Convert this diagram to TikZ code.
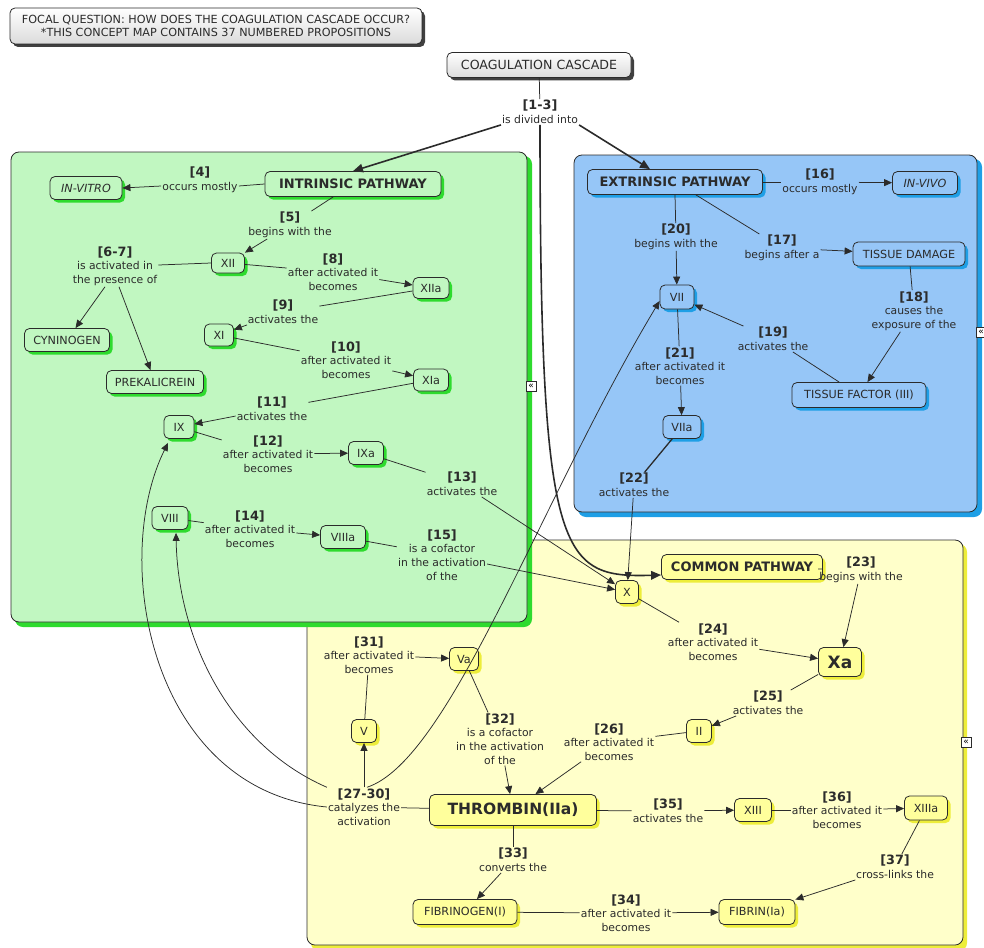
\documentclass[tikz,border=0pt]{standalone}
\usepackage{fontspec}
\setmainfont{DejaVu Sans}
\usetikzlibrary{arrows.meta,shadows}

\definecolor{grpgreen}{HTML}{C1F7C1}
\definecolor{shgreen}{HTML}{2EDB2E}
\definecolor{grpblue}{HTML}{96C6F7}
\definecolor{shblue}{HTML}{1E9FE6}
\definecolor{grpyellow}{HTML}{FFFFCA}
\definecolor{ndyellow}{HTML}{FFFF9C}
\definecolor{shyellow}{HTML}{EDED3A}
\definecolor{ink}{HTML}{2B2B2B}

\newcommand\cfont{\fontsize{11.2}{13}\selectfont}
\newcommand\lfont{\fontsize{10.8}{13.6}\selectfont}
\newcommand\pnum[1]{{\fontsize{12.8}{14}\selectfont\bfseries #1}}

\begin{document}
\begin{tikzpicture}[x=1pt,y=-1pt,
  concept/.style={draw=ink, line width=0.8pt, rounded corners=5pt, text=ink,
    font=\cfont, inner xsep=3pt, inner ysep=2pt, minimum height=23pt},
  gc/.style={concept, fill=grpgreen,
    drop shadow={shadow xshift=3pt, shadow yshift=-3pt, fill=shgreen, opacity=1}},
  bc/.style={concept, fill=grpblue,
    drop shadow={shadow xshift=3pt, shadow yshift=-3pt, fill=shblue, opacity=1}},
  yc/.style={concept, fill=ndyellow,
    drop shadow={shadow xshift=3pt, shadow yshift=-3pt, fill=shyellow, opacity=1}},
  grc/.style={concept, top color=white, bottom color=black!14,
    drop shadow={shadow xshift=3pt, shadow yshift=-3pt, fill=black!75, opacity=1}},
  head/.style={font=\fontsize{13}{15}\selectfont\bfseries},
  lbl/.style={align=center, text=ink, font=\lfont, inner sep=1pt},
  ln/.style={draw=ink, line width=0.75pt},
  arr/.style={ln, -{Triangle[length=8pt,width=7pt]}},
  tarr/.style={draw=ink, line width=1.6pt, -{Triangle[length=10pt,width=8.5pt]}},
  fold/.style={draw=ink, fill=white, line width=0.5pt, inner sep=0pt,
    minimum size=10pt, font=\fontsize{9}{9}\selectfont}
]
\useasboundingbox (0,0) rectangle (984,947);

% --- group panels ---------------------------------------------------------
\fill[shyellow, rounded corners=8pt] (311,544) rectangle (967,951);
\filldraw[fill=grpyellow, draw=ink, line width=0.8pt, rounded corners=8pt] (307,540) rectangle (963,945);
\fill[shblue, rounded corners=8pt] (578,159) rectangle (982,517);
\filldraw[fill=grpblue, draw=ink, line width=0.8pt, rounded corners=8pt] (574,155) rectangle (977,512);
\fill[shgreen, rounded corners=8pt] (15,156) rectangle (532,627);
\filldraw[fill=grpgreen, draw=ink, line width=0.8pt, rounded corners=8pt] (11,152) rectangle (527,622);

\node[fold] (f1) at (531,386) {\char"00AB};
\node[fold] (f2) at (981,332) {\char"00AB};
\node[fold] (f3) at (966,742) {\char"00AB};

% --- header -----------------------------------------------------------------
\node[grc, minimum width=412pt, minimum height=36pt, align=center,
  font=\fontsize{11.2}{13.5}\selectfont] (focus) at (216,26)
  {FOCAL QUESTION: HOW DOES THE COAGULATION CASCADE OCCUR?\\{}*THIS CONCEPT MAP CONTAINS 37 NUMBERED PROPOSITIONS};
\node[grc, minimum width=184pt, minimum height=25pt, font=\fontsize{12.6}{14}\selectfont] (coag) at (539,65) {COAGULATION CASCADE};
\node[lbl] (l13) at (540,112) {\pnum{[1-3]}\\is divided into};

% --- intrinsic pathway ------------------------------------------------------
\node[gc, head, minimum width=176pt, minimum height=25pt] (intr) at (353,184) {INTRINSIC PATHWAY};
\node[gc, minimum width=72pt, font=\cfont\itshape] (invitro) at (86,188) {IN-VITRO};
\node[gc, minimum width=33pt, minimum height=20pt] (xii) at (228,263) {XII};
\node[gc, minimum width=85pt] (cyn) at (67,340) {CYNINOGEN};
\node[gc, minimum width=97pt] (prek) at (155,382) {PREKALICREIN};
\node[gc, minimum width=36pt, minimum height=21pt] (xiia) at (431,288) {XIIa};
\node[gc, minimum width=29pt, minimum height=22pt] (xi) at (219,335) {XI};
\node[gc, minimum width=35pt, minimum height=22pt] (xia) at (431,380) {XIa};
\node[gc, minimum width=30pt] (ix) at (179,427) {IX};
\node[gc, minimum width=35pt] (ixa) at (366,453) {IXa};
\node[gc, minimum width=36pt] (viii) at (170,518) {VIII};
\node[gc, minimum width=45pt] (viiia) at (343,537) {VIIIa};

\node[lbl] (l4) at (200,180) {\pnum{[4]}\\occurs mostly};
\node[lbl] (l5) at (290,225) {\pnum{[5]}\\begins with the};
\node[lbl] (l67) at (115,266) {\pnum{[6-7]}\\is activated in\\the presence of};
\node[lbl] (l8) at (333,272) {\pnum{[8]}\\after activated it\\becomes};
\node[lbl] (l9) at (283,312) {\pnum{[9]}\\activates the};
\node[lbl] (l10) at (346,360) {\pnum{[10]}\\after activated it\\becomes};
\node[lbl] (l11) at (272,409) {\pnum{[11]}\\activates the};
\node[lbl] (l12) at (268,454) {\pnum{[12]}\\after activated it\\becomes};
\node[lbl] (l13x) at (462,484) {\pnum{[13]}\\activates the};
\node[lbl] (l14) at (250,529) {\pnum{[14]}\\after activated it\\becomes};
\node[lbl] (l15) at (442,555) {\pnum{[15]}\\is a cofactor\\in the activation\\of the};

% --- extrinsic pathway ------------------------------------------------------
\node[bc, head, minimum width=175pt, minimum height=25pt] (extr) at (675,182) {EXTRINSIC PATHWAY};
\node[bc, minimum width=65pt, font=\cfont\itshape] (invivo) at (925,183) {IN-VIVO};
\node[bc, minimum width=112pt, minimum height=24pt] (tdam) at (909,254) {TISSUE DAMAGE};
\node[bc, minimum width=134pt, minimum height=25pt] (tfac) at (859,395) {TISSUE FACTOR (III)};
\node[bc, minimum width=34pt, minimum height=24pt] (vii) at (677,297) {VII};
\node[bc, minimum width=38pt] (viia) at (682,427) {VIIa};

\node[lbl] (l16) at (820,182) {\pnum{[16]}\\occurs mostly};
\node[lbl] (l17) at (782,248) {\pnum{[17]}\\begins after a};
\node[lbl] (l18) at (914,311) {\pnum{[18]}\\causes the\\exposure of the};
\node[lbl] (l19) at (773,339) {\pnum{[19]}\\activates the};
\node[lbl] (l20) at (676,237) {\pnum{[20]}\\begins with the};
\node[lbl] (l21) at (680,366) {\pnum{[21]}\\after activated it\\becomes};
\node[lbl] (l22) at (634,485) {\pnum{[22]}\\activates the};

% --- common pathway ---------------------------------------------------------
\node[yc, head, minimum width=161pt, minimum height=25pt] (common) at (742,567) {COMMON PATHWAY};
\node[yc, minimum width=23pt] (x) at (627,592) {X};
\node[yc, minimum width=43pt, minimum height=29pt, font=\fontsize{17}{19}\selectfont\bfseries] (xa) at (840,662) {Xa};
\node[yc, minimum width=25pt] (ii) at (699,731) {II};
\node[yc, minimum width=167pt, minimum height=31pt, font=\fontsize{15.5}{17}\selectfont\bfseries] (thr) at (513,810) {THROMBIN(IIa)};
\node[yc, minimum width=29pt] (va) at (464,659) {Va};
\node[yc, minimum width=25pt] (v) at (364,731) {V};
\node[yc, minimum width=104pt, minimum height=25pt] (fibg) at (465,912) {FIBRINOGEN(I)};
\node[yc, minimum width=76pt, minimum height=25pt] (fibr) at (757,912) {FIBRIN(Ia)};
\node[yc, minimum width=37pt] (xiii) at (753,810) {XIII};
\node[yc, minimum width=43pt, minimum height=24pt] (xiiia) at (926,808) {XIIIa};

\node[lbl] (l23) at (861,570) {\pnum{[23]}\\begins with the};
\node[lbl] (l24) at (713,642) {\pnum{[24]}\\after activated it\\becomes};
\node[lbl] (l25) at (768,703) {\pnum{[25]}\\activates the};
\node[lbl] (l26) at (609,742) {\pnum{[26]}\\after activated it\\becomes};
\node[lbl] (l2730) at (364,807) {\pnum{[27-30]}\\catalyzes the\\activation};
\node[lbl] (l31) at (369,655) {\pnum{[31]}\\after activated it\\becomes};
\node[lbl] (l32) at (500,739) {\pnum{[32]}\\is a cofactor\\in the activation\\of the};
\node[lbl] (l33) at (513,860) {\pnum{[33]}\\converts the};
\node[lbl] (l34) at (626,913) {\pnum{[34]}\\after activated it\\becomes};
\node[lbl] (l35) at (668,811) {\pnum{[35]}\\activates the};
\node[lbl] (l36) at (837,810) {\pnum{[36]}\\after activated it\\becomes};
\node[lbl] (l37) at (895,867) {\pnum{[37]}\\cross-links the};

% --- connectors -------------------------------------------------------------
\draw[ln] (coag) -- (l13);
\draw[tarr] (l13.south west) -- (intr.north);
\draw[tarr] (l13.south east) -- ([xshift=-25pt]extr.north);
\draw[tarr] (l13.south) .. controls (540,560) and (560,578) .. ([yshift=-8pt]common.west);

\draw[ln] (intr.west) -- ([yshift=-6pt]l4.east);
\draw[arr] ([yshift=-6pt]l4.west) -- (invitro.east);
\draw[ln] (intr) -- (l5);
\draw[arr] (l5) -- (xii);
\draw[ln] (xii.west) -- ([yshift=1pt]l67.east);
\draw[arr] ([xshift=-10pt]l67.south) -- (cyn);
\draw[arr] ([xshift=4pt]l67.south) -- (prek);
\draw[ln] (xii) -- (l8);
\draw[arr] (l8) -- (xiia);
\draw[ln] (xiia) -- (l9);
\draw[arr] (l9) -- (xi);
\draw[ln] (xi) -- (l10);
\draw[arr] (l10) -- (xia);
\draw[ln] (xia) -- (l11);
\draw[arr] (l11) -- (ix);
\draw[ln] (ix) -- (l12);
\draw[arr] (l12) -- (ixa);
\draw[ln] (ixa) -- (l13x);
\draw[arr] (l13x) -- (x);
\draw[ln] (viii) -- (l14);
\draw[arr] (l14) -- (viiia);
\draw[ln] (viiia) -- (l15);
\draw[arr] (l15) -- (x);

\draw[ln] (extr) -- (l16);
\draw[arr] (l16) -- (invivo);
\draw[ln] (extr) -- (l17);
\draw[arr] (l17) -- (tdam);
\draw[ln] (tdam) -- (l18);
\draw[arr] (l18) -- (tfac);
\draw[ln] (tfac) -- (l19);
\draw[arr] (l19) -- (vii);
\draw[ln] (extr.south) -- (l20);
\draw[arr] (l20) -- (vii);
\draw[ln] (vii) -- (l21);
\draw[arr] (l21) -- (viia);
\draw[ln, line width=1.3pt] (viia) -- (l22);
\draw[arr] (l22) -- (x);

\draw[ln] (common) -- (l23);
\draw[arr] (l23) -- (xa);
\draw[ln] (x) -- (l24);
\draw[arr] (l24) -- (xa);
\draw[ln] (xa) -- (l25);
\draw[arr] (l25) -- (ii);
\draw[ln] (ii) -- (l26);
\draw[arr] (l26) -- (thr);
\draw[ln] (thr) -- (l2730);
\draw[arr] (l2730) -- (v);
\draw[arr] (l2730.west) .. controls (150,790) and (110,560) .. ([xshift=-11pt,yshift=-4pt]ix.south);
\draw[arr] (l2730.north west) .. controls (230,745) and (178,640) .. ([xshift=6pt,yshift=-3pt]viii.south);
\draw[arr] ([xshift=3pt]l2730.north) .. controls (450,760) and (540,500) .. ([yshift=-4pt]vii.west);
\draw[ln] (v) -- (l31);
\draw[arr] (l31) -- (va);
\draw[ln] (va) -- (l32);
\draw[arr] (l32) -- (thr);
\draw[ln] (thr) -- (l33);
\draw[arr] (l33) -- (fibg);
\draw[ln] (fibg) -- (l34);
\draw[arr] (l34) -- (fibr);
\draw[ln] (thr) -- (l35);
\draw[arr] (l35) -- (xiii);
\draw[ln] (xiii) -- (l36);
\draw[arr] (l36) -- (xiiia);
\draw[ln] (xiiia) -- (l37);
\draw[arr] (l37) -- (fibr);
\end{tikzpicture}
\end{document}
